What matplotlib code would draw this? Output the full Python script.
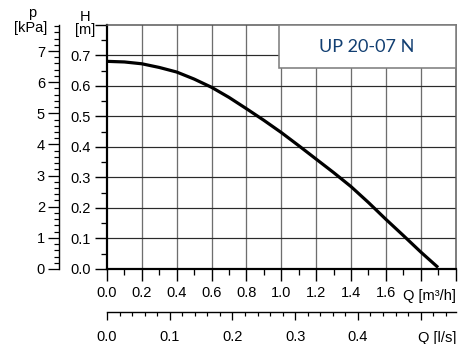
import matplotlib
matplotlib.use("Agg")
import matplotlib.pyplot as plt
from matplotlib.patches import Rectangle
from matplotlib.ticker import MultipleLocator, FixedLocator

plt.rcParams['font.family'] = ['Liberation Sans', 'DejaVu Sans']

# Data (flow in m3/h, head in m)
q_m3h = [0.0, 0.1, 0.2, 0.3, 0.4, 0.5, 0.6, 0.7, 0.8, 0.9, 1.0, 1.1, 1.2, 1.3, 1.4, 1.5, 1.6, 1.7, 1.8, 1.9]
h_m = [0.680, 0.678, 0.672, 0.660, 0.645, 0.622, 0.595, 0.562, 0.525, 0.487, 0.447, 0.404, 0.360, 0.316,
       0.270, 0.218, 0.163, 0.110, 0.056, 0.005]

h_ticks = [0.0, 0.1, 0.2, 0.3, 0.4, 0.5, 0.6, 0.7, 0.8]
h_labels = ["0.0", "0.1", "0.2", "0.3", "0.4", "0.5", "0.6", "0.7", ""]
p_ticks = [0, 1, 2, 3, 4, 5, 6, 7]
q_ticks = [0.0, 0.2, 0.4, 0.6, 0.8, 1.0, 1.2, 1.4, 1.6, 1.8, 2.0]
q_labels = ["0.0", "0.2", "0.4", "0.6", "0.8", "1.0", "1.2", "1.4", "1.6", "", ""]
qls_ticks = [0.0, 0.1, 0.2, 0.3, 0.4, 0.5]
qls_labels = ["0.0", "0.1", "0.2", "0.3", "0.4", ""]
title = "UP 20-07 N"

PX = 72 / 100  # points per pixel
FS = 10.5

W, H = 459, 344
fig = plt.figure(figsize=(W / 100, H / 100), dpi=100)
L, R, T, B = 107, 455.5, 24.7, 269.0
ax = fig.add_axes([L / W, 1 - B / H, (R - L) / W, (B - T) / H])

ax.set_xlim(0, 2.0)
ax.set_ylim(0, 0.8)

ax.set_xticks(q_ticks)
ax.set_xticklabels(q_labels)
ax.xaxis.set_minor_locator(MultipleLocator(0.1))
ax.set_yticks(h_ticks)
ax.set_yticklabels(h_labels)
ax.yaxis.set_minor_locator(MultipleLocator(0.05))
ax.grid(False)
for x in q_ticks[1:-1]:
    ax.axvline(x, color='#6e6e6e', lw=1.3 * PX, zorder=1)
for y in h_ticks[1:-1]:
    ax.axhline(y, color='#2a2a2a', lw=1.2 * PX, zorder=1)

ax.tick_params(axis='both', which='major', direction='out', length=12 * PX, width=1.4 * PX,
               labelsize=FS, color='black')
ax.tick_params(axis='both', which='minor', direction='out', length=6 * PX, width=1.3 * PX)
ax.tick_params(axis='x', which='major', pad=5 * PX)
ax.tick_params(axis='y', which='major', pad=4 * PX)

for s in ['left', 'bottom']:
    ax.spines[s].set_linewidth(2.2 * PX)
    ax.spines[s].set_color('black')
for s in ['top', 'right']:
    ax.spines[s].set_linewidth(1.5 * PX)
    ax.spines[s].set_color('#555555')

ax.plot(q_m3h, h_m, color='black', lw=3.2 * PX, zorder=3, solid_capstyle='butt')

# model box
ax.add_patch(Rectangle((0.985, 0.657), 2.0 - 0.985, 0.8 - 0.657, facecolor='white',
                       edgecolor='#7f7f7f', lw=1.6 * PX, zorder=4, clip_on=False))
ax.text((0.985 + 2.0) / 2, (0.657 + 0.8) / 2 - 0.002, title, ha='center', va='center',
        fontsize=13, color='#123f72', family=['Lato', 'DejaVu Sans'], zorder=5)

# kPa axis
sec = ax.secondary_yaxis((59 - L) / (R - L), functions=(lambda h: h * 9.80665, lambda p: p / 9.80665))
sec.yaxis.set_major_locator(FixedLocator(p_ticks))
sec.yaxis.set_minor_locator(MultipleLocator(0.2))
sec.tick_params(axis='y', which='major', direction='out', length=11 * PX, width=1.3 * PX,
                labelsize=FS, pad=3 * PX)
sec.tick_params(axis='y', which='minor', direction='out', length=5 * PX, width=1.2 * PX)
sec.spines['left'].set_linewidth(1.4 * PX)

# l/s axis
secx = ax.secondary_xaxis(-(311.7 - B) / (B - T), functions=(lambda q: q / 3.6, lambda q: q * 3.6))
secx.xaxis.set_major_locator(FixedLocator(qls_ticks))
secx.set_xticklabels(qls_labels)
secx.xaxis.set_minor_locator(MultipleLocator(0.02))
secx.tick_params(axis='x', which='major', direction='out', length=8 * PX, width=1.3 * PX,
                 labelsize=FS, pad=10 * PX)
secx.tick_params(axis='x', which='minor', direction='out', length=4 * PX, width=1.2 * PX)
secx.spines['bottom'].set_linewidth(1.4 * PX)

# axis labels
fig.text(456 / W, 1 - 296 / H, "Q [m³/h]", ha='right', va='center', fontsize=FS)
fig.text(456 / W, 1 - 338 / H, "Q [l/s]", ha='right', va='center', fontsize=FS)
fig.text(85 / W, 1 - 17 / H, "H", ha='center', va='center', fontsize=FS)
fig.text(85 / W, 1 - 30 / H, "[m]", ha='center', va='center', fontsize=FS)
fig.text(32 / W, 1 - 13 / H, "p", ha='center', va='center', fontsize=FS)
fig.text(31 / W, 1 - 28 / H, "[kPa]", ha='center', va='center', fontsize=FS)

fig.savefig("out.png", dpi=100)
